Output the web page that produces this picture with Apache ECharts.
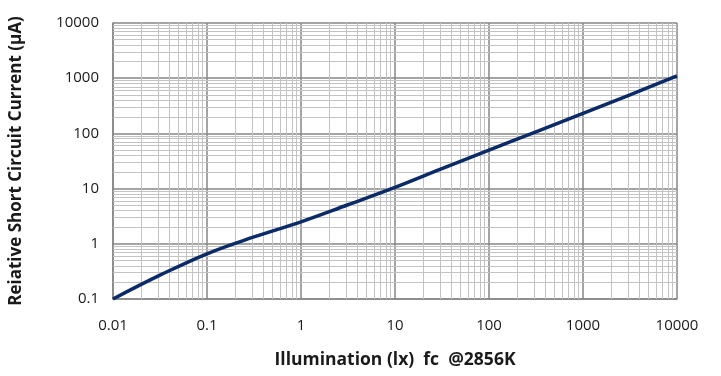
<!DOCTYPE html>
<html>
<head>
<meta charset="utf-8">
<script src="https://cdn.jsdelivr.net/npm/echarts@6/dist/echarts.min.js"></script>
<style>html,body{margin:0;padding:0;background:#fff}#c{width:721px;height:376px}</style>
</head>
<body>
<div id="c"></div>
<script>
// Data (half-decade samples)
var illum = [0.01, 0.0316, 0.1, 0.316, 1, 3.16, 10, 31.6, 100, 316, 1000, 3162, 10000];
var current = [0.1, 0.27, 0.66, 1.33, 2.5, 5.1, 10.5, 23, 50, 107, 230, 500, 1100];
var xTickLabels = ['0.01', '0.1', '1', '10', '100', '1000', '10000'];
var yTickLabels = ['0.1', '1', '10', '100', '1000', '10000'];
var xDecades = [0.01, 0.1, 1, 10, 100, 1000];
var yDecades = [0.1, 1, 10, 100, 1000];
var minorMult = [2, 3, 4, 5, 6, 7, 8, 9];

var FONT = '"Open Sans", "Noto Sans", sans-serif';
var minorX = [], minorY = [];
xDecades.forEach(function (d) { minorMult.forEach(function (m) { minorX.push({ xAxis: +(d * m).toPrecision(6) }); }); });
yDecades.forEach(function (d) { minorMult.forEach(function (m) { minorY.push({ yAxis: +(d * m).toPrecision(6) }); }); });

function lbl(arr, base) {
  return function (v) {
    var i = Math.round(Math.log10(v)) - base;
    return arr[i] !== undefined ? arr[i] : '';
  };
}

var chart = echarts.init(document.getElementById('c'), null, { renderer: 'canvas' });
chart.setOption({
  animation: false,
  grid: { left: 113, right: 44, top: 23, bottom: 77 },
  xAxis: {
    type: 'log', logBase: 10, min: 0.01, max: 10000,
    name: 'Illumination (lx)  fc  @2856K', nameLocation: 'middle', nameGap: 52,
    nameTextStyle: { fontFamily: FONT, fontWeight: 'bold', fontSize: 17.5, color: '#1a1a1a' },
    axisLine: { show: true, lineStyle: { color: '#868686', width: 1.5 } },
    axisTick: { show: false },
    axisLabel: { formatter: lbl(xTickLabels, -2), fontFamily: FONT, fontSize: 15, color: '#1a1a1a', margin: 19 },
    splitLine: { show: true, lineStyle: { color: '#868686', width: 1.5 } },
    minorTick: { show: false }, minorSplitLine: { show: false }
  },
  yAxis: {
    type: 'log', logBase: 10, min: 0.1, max: 10000,
    name: 'Reiative Short Circuit Current (μA)', nameLocation: 'middle', nameGap: 88,
    nameTextStyle: { fontFamily: FONT, fontWeight: 'bold', fontSize: 17, color: '#1a1a1a' },
    axisLine: { show: true, lineStyle: { color: '#868686', width: 1.5 } },
    axisTick: { show: false },
    axisLabel: { formatter: lbl(yTickLabels, -1), fontFamily: FONT, fontSize: 15, color: '#1a1a1a', margin: 14 },
    splitLine: { show: true, lineStyle: { color: '#868686', width: 1.5 } }
  },
  series: [
    {
      type: 'line', data: [], z: 1, silent: true,
      markLine: {
        silent: true, symbol: ['none', 'none'], label: { show: false },
        lineStyle: { color: '#c3c3c3', width: 1, type: 'solid' },
        data: minorX.concat(minorY)
      }
    },
    {
      type: 'line', z: 5,
      data: illum.map(function (x, i) { return [x, current[i]]; }),
      smooth: 0.4, showSymbol: false,
      lineStyle: { color: '#0b2a68', width: 3.5 }
    }
  ]
});
</script>
</body>
</html>
